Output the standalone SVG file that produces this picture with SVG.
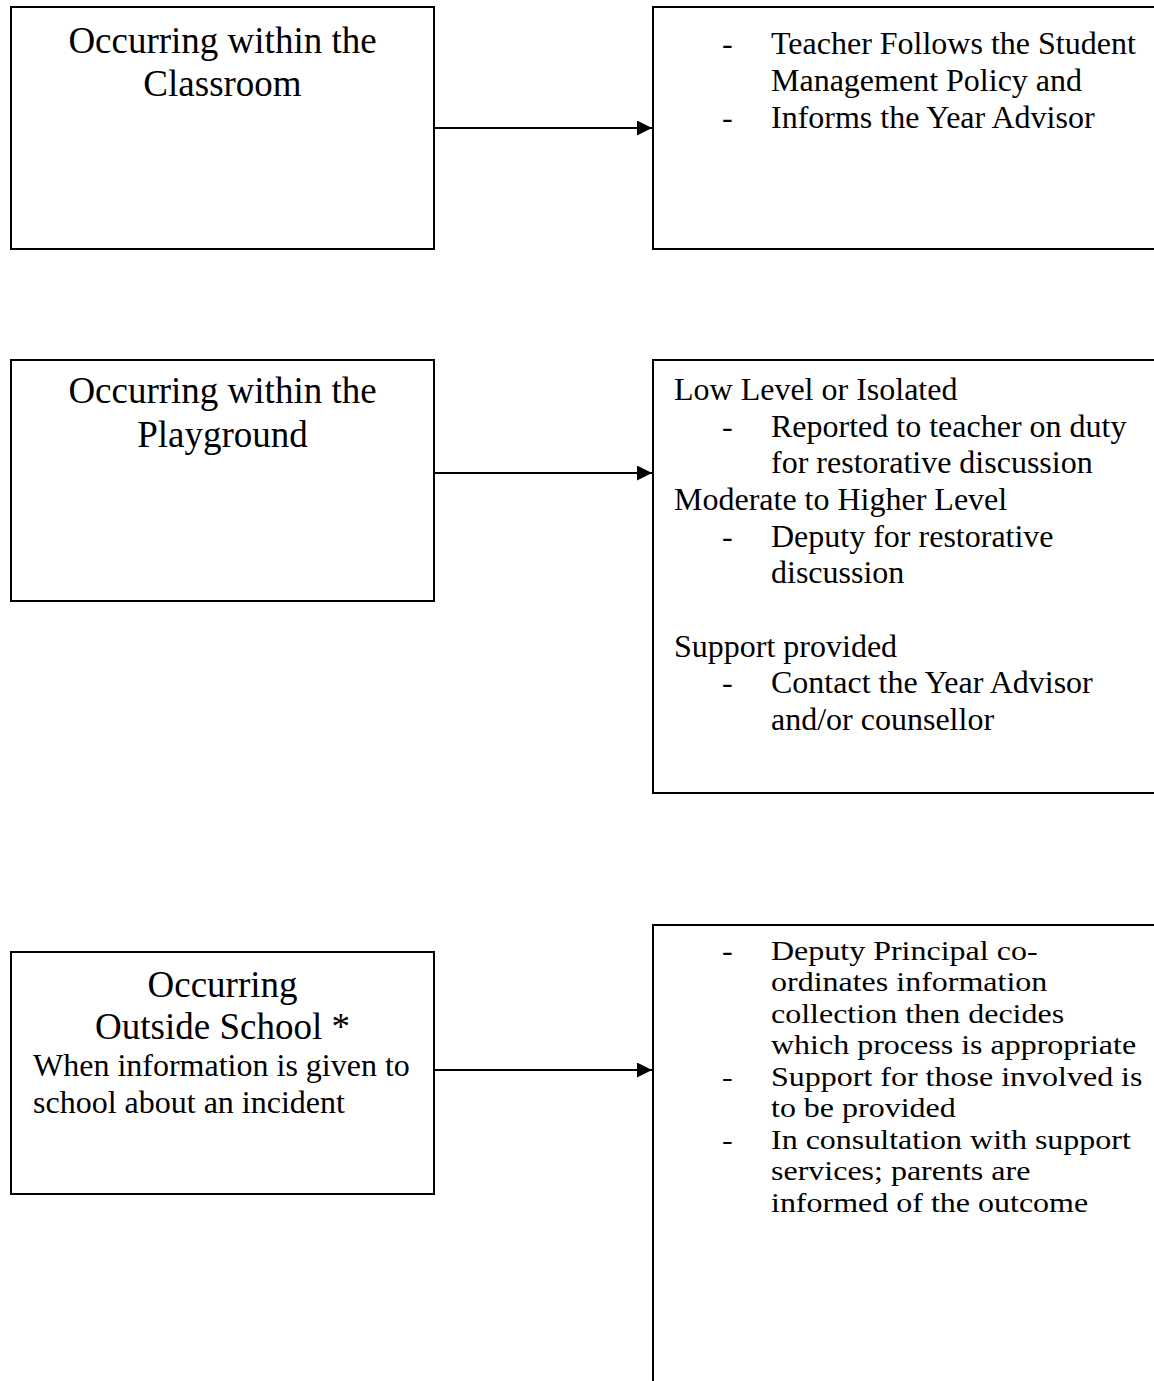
<svg xmlns="http://www.w3.org/2000/svg" width="1154" height="1381" viewBox="0 0 1154 1381">
<style>
.box{fill:#fff;stroke:#000;stroke-width:2}
.t{font-family:"Liberation Serif","Times New Roman",serif;fill:#000}
.big{font-size:37px;text-anchor:middle}
.med{font-size:32px}
.conn{stroke:#000;stroke-width:2;fill:none}
</style>
<defs>
<marker id="ah" markerWidth="16" markerHeight="15" refX="15" refY="7.5" orient="auto" markerUnits="userSpaceOnUse">
<path d="M0,0 L15,7.5 L0,15 Z" fill="#000"/>
</marker>
</defs>
<rect width="1154" height="1381" fill="#fff"/>

<g id="classroom">
<rect class="box" x="11" y="7" width="423" height="242"/>
<text class="t big" x="222.5" y="53">Occurring within the</text>
<text class="t big" x="222.5" y="96">Classroom</text>
</g>

<g id="classroom-action">
<rect class="box" x="653" y="7" width="520" height="242"/>
<text class="t med" x="722" y="54">-</text>
<text class="t med" x="771" y="54">Teacher Follows the Student</text>
<text class="t med" x="771" y="91">Management Policy and</text>
<text class="t med" x="722" y="128">-</text>
<text class="t med" x="771" y="128">Informs the Year Advisor</text>
</g>

<g id="playground">
<rect class="box" x="11" y="360" width="423" height="241"/>
<text class="t big" x="222.5" y="403">Occurring within the</text>
<text class="t big" x="222.5" y="447">Playground</text>
</g>

<g id="playground-action">
<rect class="box" x="653" y="360" width="520" height="433"/>
<text class="t med" x="674" y="400">Low Level or Isolated</text>
<text class="t med" x="722" y="437">-</text>
<text class="t med" x="771" y="437">Reported to teacher on duty</text>
<text class="t med" x="771" y="473">for restorative discussion</text>
<text class="t med" x="674" y="510">Moderate to Higher Level</text>
<text class="t med" x="722" y="547">-</text>
<text class="t med" x="771" y="547">Deputy for restorative</text>
<text class="t med" x="771" y="583">discussion</text>
<text class="t med" x="674" y="657">Support provided</text>
<text class="t med" x="722" y="693">-</text>
<text class="t med" x="771" y="693">Contact the Year Advisor</text>
<text class="t med" x="771" y="730">and/or counsellor</text>
</g>

<g id="outside">
<rect class="box" x="11" y="952" width="423" height="242"/>
<text class="t big" x="222.5" y="997">Occurring</text>
<text class="t big" x="222.5" y="1039">Outside School *</text>
<text class="t med" x="33" y="1076">When information is given to</text>
<text class="t med" x="33" y="1113">school about an incident</text>
</g>

<g id="outside-action">
<rect class="box" x="653" y="925" width="520" height="480"/>
<g transform="translate(0,960) scale(1,0.84)">
<text class="t med" x="722" y="0" font-weight="bold">-</text>
<text class="t med" x="771" y="0">Deputy Principal co-</text>
<text class="t med" x="771" y="37.5">ordinates information</text>
<text class="t med" x="771" y="75">collection then decides</text>
<text class="t med" x="771" y="112.5">which process is appropriate</text>
<text class="t med" x="722" y="150">-</text>
<text class="t med" x="771" y="150">Support for those involved is</text>
<text class="t med" x="771" y="187.5">to be provided</text>
<text class="t med" x="722" y="225">-</text>
<text class="t med" x="771" y="225">In consultation with support</text>
<text class="t med" x="771" y="262.5">services; parents are</text>
<text class="t med" x="771" y="300">informed of the outcome</text>
</g>
</g>

<g id="connectors">
<line class="conn" x1="434" y1="128" x2="652" y2="128" marker-end="url(#ah)"/>
<line class="conn" x1="434" y1="473" x2="652" y2="473" marker-end="url(#ah)"/>
<line class="conn" x1="434" y1="1070" x2="652" y2="1070" marker-end="url(#ah)"/>
</g>
</svg>
